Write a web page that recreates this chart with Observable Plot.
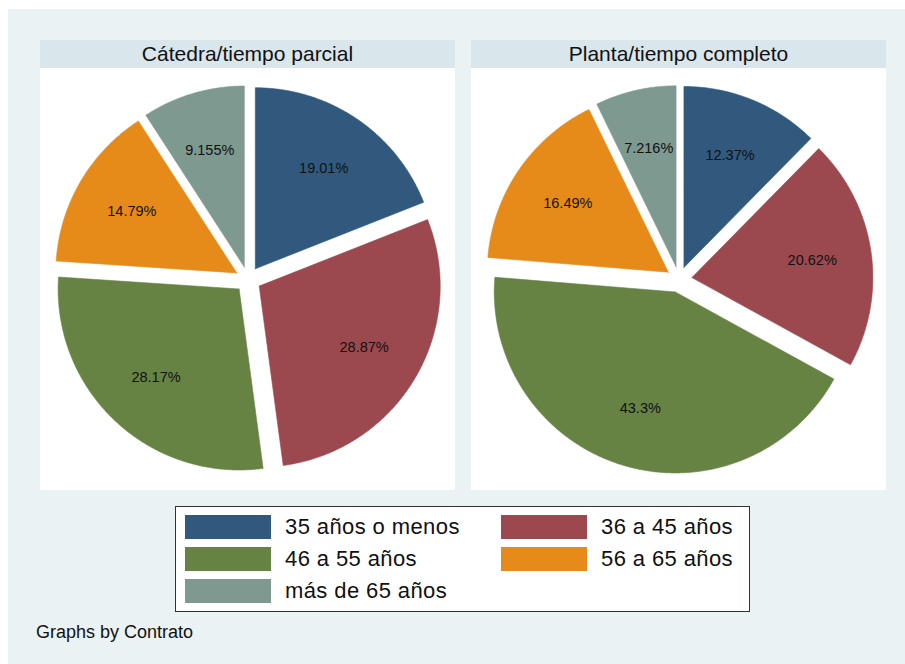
<!DOCTYPE html>
<html><head><meta charset="utf-8">
<script src="https://cdn.jsdelivr.net/npm/d3@7"></script>
<script src="https://cdn.jsdelivr.net/npm/@observablehq/plot@0.6"></script>
<style>
body{margin:0;background:#fff;font-family:"Liberation Sans",Arial,Helvetica,sans-serif;}
#root{position:relative;width:905px;height:664px;background:#fff;overflow:hidden}
#bg{position:absolute;left:8px;top:9px;right:0;bottom:0;background:#eaf2f3}
.panel{position:absolute;top:40px;width:415px;height:450px;background:#fff}
.head{height:28px;background:#d9e6eb;text-align:center;font-size:21px;line-height:28px;color:#111;white-space:nowrap}
.panel svg{display:block}
#legend{position:absolute;left:175px;top:506px;width:575px;height:106px;box-sizing:border-box;border:1px solid #333;background:#fff}
.key{position:absolute;width:86px;height:24px}
.ltxt{position:absolute;font-size:22px;line-height:24px;color:#111;white-space:nowrap;letter-spacing:0.4px}
#caption{position:absolute;left:36px;top:623px;font-size:18px;line-height:18px;color:#111;white-space:nowrap}
</style>
</head><body>
<div id="root">
  <div id="bg"></div>
  <div class="panel" id="p0" style="left:40px"></div>
  <div class="panel" id="p1" style="left:471px"></div>
  <div id="legend"></div>
  <div id="caption">Graphs by Contrato</div>
</div>
<script>
const categories = ["35 años o menos", "36 a 45 años", "46 a 55 años", "56 a 65 años", "más de 65 años"];
const colors = ["#31597d", "#9b494f", "#668344", "#e68b1a", "#7d9990"];
const panelTitles = ["Cátedra/tiempo parcial", "Planta/tiempo completo"];
const valuesCatedra = [19.01, 28.87, 28.17, 14.79, 9.155];
const valuesPlanta = [12.37, 20.62, 43.3, 16.49, 7.216];
const labelsCatedra = ["19.01%", "28.87%", "28.17%", "14.79%", "9.155%"];
const labelsPlanta = ["12.37%", "20.62%", "43.3%", "16.49%", "7.216%"];

const W = 415, H = 422, R = 181;
const explode = 13 / R, labelDist = 0.672;

function pie(values, labels) {
  const total = d3.sum(values);
  const pts = [], labs = [];
  let cum = 0;
  values.forEach((v, i) => {
    const a0 = cum / total * 2 * Math.PI;
    cum += v;
    const a1 = cum / total * 2 * Math.PI;
    const m = (a0 + a1) / 2;
    const ox = explode * Math.sin(m), oy = explode * Math.cos(m);
    const cat = categories[i];
    pts.push({cat, x: ox, y: oy});
    const n = Math.max(2, Math.ceil((a1 - a0) / (Math.PI / 360)));
    for (let k = 0; k <= n; k++) {
      const a = a0 + (a1 - a0) * k / n;
      pts.push({cat, x: ox + Math.sin(a), y: oy + Math.cos(a)});
    }
    pts.push({cat, x: ox, y: oy});
    labs.push({x: ox + labelDist * Math.sin(m), y: oy + labelDist * Math.cos(m), text: labels[i]});
  });
  return Plot.plot({
    width: W, height: H, margin: 0,
    style: {background: "#fff", fontFamily: "'Liberation Sans', Arial, sans-serif"},
    x: {domain: [-W / 2 / R, W / 2 / R], axis: null},
    y: {domain: [-H / 2 / R, H / 2 / R], axis: null},
    color: {domain: categories, range: colors},
    marks: [
      Plot.line(pts, {x: "x", y: "y", z: "cat", fill: "cat", stroke: "cat", strokeWidth: 0.6, curve: "linear"}),
      Plot.text(labs, {x: "x", y: "y", text: "text", fill: "#111", fontSize: 14.5})
    ]
  });
}

[[valuesCatedra, labelsCatedra], [valuesPlanta, labelsPlanta]].forEach(([vals, labs], i) => {
  const p = document.getElementById("p" + i);
  const h = document.createElement("div");
  h.className = "head";
  h.textContent = panelTitles[i];
  p.appendChild(h);
  p.appendChild(pie(vals, labs));
});

const legend = document.getElementById("legend");
categories.forEach((c, i) => {
  const col = i % 2, row = Math.floor(i / 2);
  const top = 8 + row * 32;
  const key = document.createElement("div");
  key.className = "key";
  key.style.left = (col ? 325 : 9) + "px";
  key.style.top = top + "px";
  key.style.background = colors[i];
  legend.appendChild(key);
  const t = document.createElement("div");
  t.className = "ltxt";
  t.style.left = (col ? 425 : 109) + "px";
  t.style.top = top + "px";
  t.textContent = c;
  legend.appendChild(t);
});
</script>
</body></html>
